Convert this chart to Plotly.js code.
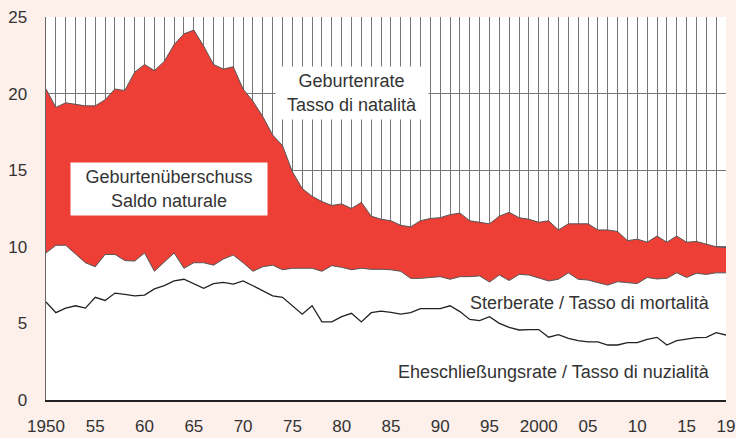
<!DOCTYPE html>
<html>
<head>
<meta charset="utf-8">
<script src="https://cdn.plot.ly/plotly-3.0.1.min.js"></script>
<style>html,body{margin:0;padding:0;background:#fdefea;}#chart{width:736px;height:438px;}</style>
</head>
<body>
<div id="chart"></div>
<script>
const years = [];
for (let y = 1950; y <= 2019; y++) years.push(y);

const birthRate = [20.3,19.1,19.4,19.3,19.2,19.2,19.6,20.3,20.2,21.4,
  21.9,21.5,22.1,23.2,23.9,24.15,23.1,21.9,21.6,21.75,
  20.3,19.5,18.5,17.3,16.6,14.9,13.8,13.3,12.95,12.7,
  12.8,12.5,12.9,12.0,11.8,11.7,11.4,11.3,11.7,11.85,
  11.9,12.1,12.2,11.7,11.6,11.5,12.0,12.25,11.9,11.8,
  11.6,11.7,11.1,11.5,11.5,11.5,11.1,11.1,11.0,10.4,
  10.5,10.3,10.7,10.3,10.7,10.3,10.35,10.2,10.0,9.95];

const deathRate = [9.6,10.1,10.1,9.5,8.96,8.7,9.5,9.5,9.1,9.07,
  9.6,8.4,9.0,9.6,8.6,8.96,8.96,8.8,9.2,9.46,
  8.96,8.4,8.7,8.8,8.5,8.6,8.6,8.6,8.4,8.77,
  8.66,8.5,8.6,8.53,8.53,8.5,8.4,7.94,7.94,8.0,
  8.05,7.88,8.05,8.05,8.1,7.7,8.16,7.8,8.2,8.16,
  7.94,7.77,7.88,8.3,7.88,7.83,7.66,7.5,7.72,7.68,
  7.6,8.0,7.9,7.94,8.3,8.0,8.27,8.2,8.3,8.3];

const marriageRate = [6.4,5.7,6.0,6.15,6.0,6.7,6.5,6.98,6.9,6.8,
  6.85,7.25,7.46,7.77,7.88,7.57,7.29,7.6,7.68,7.57,
  7.77,7.46,7.13,6.8,6.7,6.13,5.6,6.15,5.1,5.1,
  5.44,5.66,5.1,5.7,5.8,5.72,5.6,5.7,5.96,5.96,
  5.96,6.15,5.77,5.26,5.18,5.44,5.0,4.74,4.57,4.6,
  4.6,4.1,4.26,4.03,3.87,3.8,3.8,3.59,3.59,3.74,
  3.74,3.96,4.09,3.59,3.87,3.98,4.07,4.09,4.4,4.24];

const xTickVals = [1950,1955,1960,1965,1970,1975,1980,1985,1990,1995,2000,2005,2010,2015,2019];
const xTickText = ['1950','55','60','65','70','75','80','85','90','95','2000','05','10','15','19'];
const yTickVals = [0,5,10,15,20,25];

const labelBirth = 'Geburtenrate<br>Tasso di natalità';
const labelSurplus = 'Geburtenüberschuss<br>Saldo naturale';
const labelDeath = 'Sterberate / Tasso di mortalità';
const labelMarriage = 'Eheschließungsrate / Tasso di nuzialità';

const tickFont = {family: 'Liberation Sans, Arial, sans-serif', size: 17, color: '#333'};
const labelFont = {family: 'Liberation Sans, Arial, sans-serif', size: 18, color: '#333'};

const traces = [
  {x: years, y: birthRate, type: 'scatter', mode: 'lines', fill: 'tozeroy',
   fillcolor: '#ee3f36', line: {color: '#555', width: 1}, hoverinfo: 'skip'},
  {x: years, y: deathRate, type: 'scatter', mode: 'lines', fill: 'tozeroy',
   fillcolor: '#ffffff', line: {color: '#555', width: 1}, hoverinfo: 'skip'},
  {x: years, y: marriageRate, type: 'scatter', mode: 'lines',
   line: {color: '#222', width: 1.3}, hoverinfo: 'skip'}
];

const layout = {
  width: 736, height: 438,
  margin: {l: 46, r: 10, t: 17, b: 38},
  paper_bgcolor: '#fdefea',
  plot_bgcolor: '#ffffff',
  showlegend: false,
  font: tickFont,
  xaxis: {
    range: [1950, 2019], tickmode: 'array', tickvals: xTickVals, ticktext: xTickText,
    showgrid: true, gridcolor: '#777', gridwidth: 1,
    minor: {dtick: 1, tick0: 1950, showgrid: true, gridcolor: '#777', gridwidth: 1},
    showline: true, linecolor: '#222', linewidth: 1.5,
    ticks: '', ticklabelstandoff: 10, ticklabeloverflow: 'allow', zeroline: false, tickfont: tickFont
  },
  yaxis: {
    range: [0, 25], tickmode: 'array', tickvals: yTickVals,
    showgrid: true, gridcolor: '#777', gridwidth: 1,
    showline: true, linecolor: '#666', linewidth: 1.5,
    ticks: '', ticklabelstandoff: 14, zeroline: false, tickfont: tickFont
  },
  annotations: [
    {x: 1981, y: 20.04, xref: 'x', yref: 'y', text: labelBirth, showarrow: false,
     bgcolor: '#ffffff', width: 150, height: 50, font: labelFont},
    {x: 1962.5, y: 13.77, xref: 'x', yref: 'y', text: labelSurplus, showarrow: false,
     bgcolor: '#ffffff', width: 194, height: 50, font: labelFont},
    {x: 2017.6, y: 6.33, xref: 'x', yref: 'y', text: labelDeath, showarrow: false,
     xanchor: 'right', font: labelFont},
    {x: 2017.6, y: 1.83, xref: 'x', yref: 'y', text: labelMarriage, showarrow: false,
     xanchor: 'right', font: labelFont}
  ]
};

Plotly.newPlot('chart', traces, layout, {staticPlot: true, displayModeBar: false});
</script>
</body>
</html>
